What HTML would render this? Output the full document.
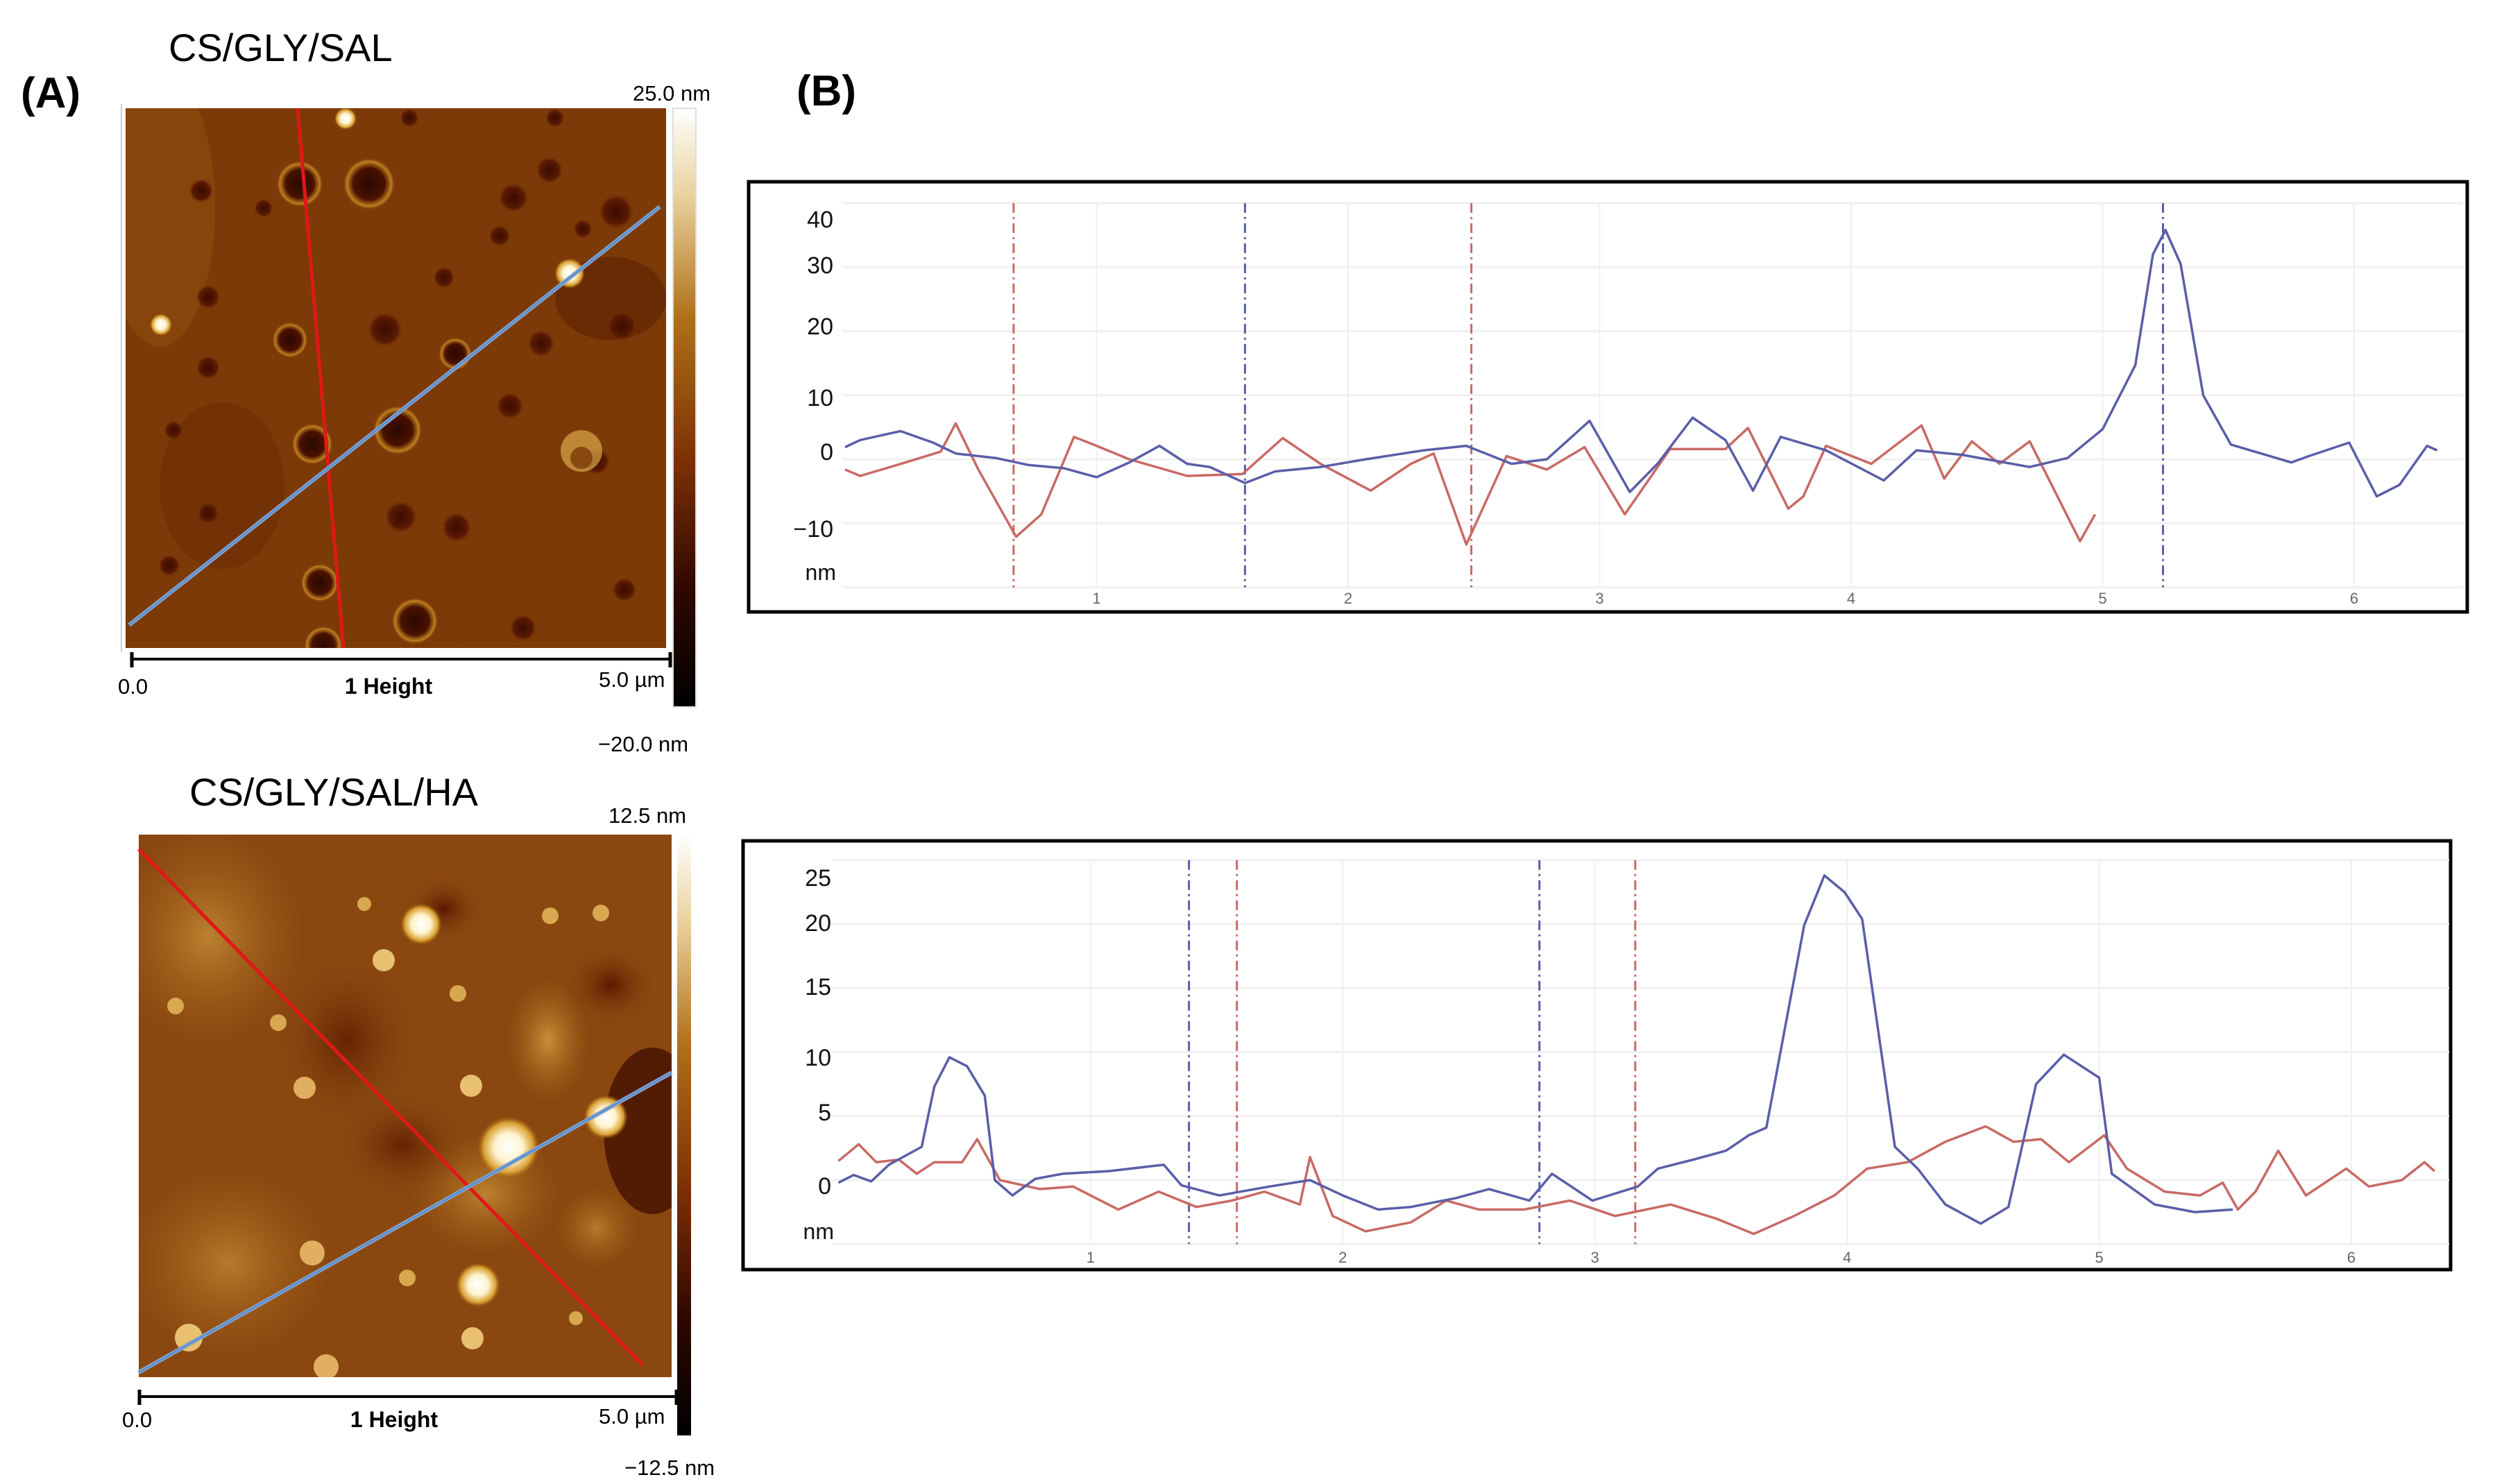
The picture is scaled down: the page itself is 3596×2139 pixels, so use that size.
<!DOCTYPE html>
<html><head><meta charset="utf-8"><style>
html,body{margin:0;padding:0;background:#fff;}
svg{display:block;font-family:"Liberation Sans",sans-serif;}
</style></head><body>
<svg id="fig" width="3596" height="2139" viewBox="0 0 3596 2139" xmlns="http://www.w3.org/2000/svg">
<defs>
<linearGradient id="cbar" x1="0" y1="0" x2="0" y2="1">
<stop offset="0" stop-color="#ffffff"/><stop offset="0.15" stop-color="#e9d09a"/><stop offset="0.35" stop-color="#b07018"/><stop offset="0.6" stop-color="#7a2e04"/><stop offset="0.8" stop-color="#300800"/><stop offset="1" stop-color="#000"/>
</linearGradient>
<radialGradient id="hole"><stop offset="0" stop-color="#2a0800"/><stop offset="0.6" stop-color="#4a1200"/><stop offset="0.85" stop-color="#c08020"/><stop offset="1" stop-color="#7a3408" stop-opacity="0"/></radialGradient>
<radialGradient id="hole2"><stop offset="0" stop-color="#3a0c00"/><stop offset="0.7" stop-color="#5a1a02"/><stop offset="1" stop-color="#7a3408" stop-opacity="0"/></radialGradient>
<radialGradient id="bright"><stop offset="0" stop-color="#ffffff"/><stop offset="0.45" stop-color="#fff4d0"/><stop offset="0.8" stop-color="#d8a030"/><stop offset="1" stop-color="#a06010" stop-opacity="0"/></radialGradient>
<radialGradient id="patch"><stop offset="0" stop-color="#c89038"/><stop offset="1" stop-color="#a86418" stop-opacity="0"/></radialGradient>
<radialGradient id="darkp"><stop offset="0" stop-color="#5a1800"/><stop offset="1" stop-color="#8a4a10" stop-opacity="0"/></radialGradient>
<clipPath id="clipA"><rect x="181" y="156" width="779" height="778"/></clipPath>
<clipPath id="clipB"><rect x="200" y="1203" width="768" height="782"/></clipPath>
</defs>

<!-- Panel labels -->
<text x="30" y="155" font-size="62" font-weight="bold">(A)</text>
<text x="1148" y="152" font-size="62" font-weight="bold">(B)</text>
<text x="243" y="88" font-size="56">CS/GLY/SAL</text>
<text x="273" y="1161" font-size="56">CS/GLY/SAL/HA</text>

<!-- Top AFM image -->
<g>
<rect x="181" y="156" width="779" height="778" fill="#7c3a08"/>
<g clip-path="url(#clipA)">
<ellipse cx="230" cy="300" rx="80" ry="200" fill="#94500e" opacity="0.5"/>
<ellipse cx="320" cy="700" rx="90" ry="120" fill="#6a2a04" opacity="0.5"/>
<ellipse cx="880" cy="430" rx="80" ry="60" fill="#5e2202" opacity="0.6"/>
<circle cx="432" cy="265" r="34" fill="url(#hole)"/>
<circle cx="532" cy="265" r="38" fill="url(#hole)"/>
<circle cx="573" cy="620" r="36" fill="url(#hole)"/>
<circle cx="598" cy="895" r="34" fill="url(#hole)"/>
<circle cx="450" cy="640" r="30" fill="url(#hole)"/>
<circle cx="418" cy="490" r="26" fill="url(#hole)"/>
<circle cx="461" cy="840" r="28" fill="url(#hole)"/>
<circle cx="466" cy="930" r="28" fill="url(#hole)"/>
<circle cx="555" cy="475" r="26" fill="url(#hole2)"/>
<circle cx="578" cy="745" r="24" fill="url(#hole2)"/>
<circle cx="656" cy="510" r="24" fill="url(#hole)"/>
<circle cx="658" cy="760" r="22" fill="url(#hole2)"/>
<circle cx="740" cy="285" r="22" fill="url(#hole2)"/>
<circle cx="792" cy="245" r="20" fill="url(#hole2)"/>
<circle cx="888" cy="305" r="26" fill="url(#hole2)"/>
<circle cx="896" cy="470" r="22" fill="url(#hole2)"/>
<circle cx="780" cy="495" r="20" fill="url(#hole2)"/>
<circle cx="735" cy="585" r="20" fill="url(#hole2)"/>
<circle cx="860" cy="665" r="20" fill="url(#hole2)"/>
<circle cx="754" cy="905" r="20" fill="url(#hole2)"/>
<circle cx="290" cy="275" r="18" fill="url(#hole2)"/>
<circle cx="300" cy="428" r="18" fill="url(#hole2)"/>
<circle cx="300" cy="530" r="18" fill="url(#hole2)"/>
<circle cx="300" cy="740" r="16" fill="url(#hole2)"/>
<circle cx="244" cy="815" r="16" fill="url(#hole2)"/>
<circle cx="660" cy="950" r="18" fill="url(#hole2)"/>
<circle cx="900" cy="850" r="18" fill="url(#hole2)"/>
<circle cx="720" cy="340" r="16" fill="url(#hole2)"/>
<circle cx="640" cy="400" r="16" fill="url(#hole2)"/>
<circle cx="840" cy="330" r="14" fill="url(#hole2)"/>
<circle cx="380" cy="300" r="14" fill="url(#hole2)"/>
<circle cx="250" cy="620" r="14" fill="url(#hole2)"/>
<circle cx="590" cy="170" r="14" fill="url(#hole2)"/>
<circle cx="800" cy="170" r="14" fill="url(#hole2)"/>
<circle cx="498" cy="171" r="16" fill="url(#bright)"/>
<circle cx="232" cy="468" r="16" fill="url(#bright)"/>
<circle cx="821" cy="394" r="22" fill="url(#bright)"/>
<circle cx="838" cy="650" r="30" fill="#d8a848" opacity="0.7"/>
<circle cx="838" cy="660" r="16" fill="#7c3a08" opacity="0.8"/>
</g>
<line x1="429" y1="156" x2="495" y2="934" stroke="#e01818" stroke-width="5"/>
<line x1="186" y1="901" x2="951" y2="298" stroke="#8aa0c8" stroke-width="6"/>
<line x1="186" y1="901" x2="951" y2="298" stroke="#4a90d8" stroke-width="2"/>
</g>
<line x1="175" y1="150" x2="175" y2="940" stroke="#ccc" stroke-width="2"/>
<rect x="970" y="156" width="33" height="863" fill="url(#cbar)"/>
<rect x="970" y="156" width="33" height="863" fill="none" stroke="#ddd" stroke-width="2"/>
<text x="912" y="145" font-size="31">25.0 nm</text>
<text x="862" y="1083" font-size="31">−20.0 nm</text>
<g>
<line x1="190" y1="950" x2="966" y2="950" stroke="#000" stroke-width="4"/>
<line x1="190" y1="940" x2="190" y2="962" stroke="#000" stroke-width="5"/>
<line x1="966" y1="940" x2="966" y2="962" stroke="#000" stroke-width="5"/>
</g>
<text x="170" y="1000" font-size="31">0.0</text>
<text x="560" y="1000" font-size="32" font-weight="bold" text-anchor="middle">1 Height</text>
<text x="863" y="990" font-size="31">5.0 µm</text>

<!-- Bottom AFM image -->
<g>
<rect x="200" y="1203" width="768" height="782" fill="#8a4810"/>
<g clip-path="url(#clipB)">
<ellipse cx="300" cy="1350" rx="140" ry="160" fill="url(#patch)" opacity="0.8"/>
<ellipse cx="330" cy="1820" rx="150" ry="140" fill="url(#patch)" opacity="0.7"/>
<ellipse cx="790" cy="1500" rx="60" ry="90" fill="url(#patch)"/>
<ellipse cx="700" cy="1720" rx="110" ry="90" fill="url(#patch)" opacity="0.8"/>
<ellipse cx="860" cy="1770" rx="60" ry="60" fill="url(#patch)" opacity="0.7"/>
<ellipse cx="500" cy="1500" rx="110" ry="130" fill="url(#darkp)" opacity="0.8"/>
<ellipse cx="580" cy="1650" rx="100" ry="80" fill="url(#darkp)" opacity="0.8"/>
<ellipse cx="940" cy="1630" rx="70" ry="120" fill="#3a0a00" opacity="0.7"/>
<ellipse cx="880" cy="1420" rx="70" ry="60" fill="url(#darkp)"/>
<ellipse cx="640" cy="1310" rx="60" ry="50" fill="url(#darkp)"/>
<circle cx="607" cy="1332" r="30" fill="url(#bright)"/>
<circle cx="733" cy="1654" r="45" fill="url(#bright)"/>
<circle cx="873" cy="1610" r="32" fill="url(#bright)"/>
<circle cx="689" cy="1852" r="32" fill="url(#bright)"/>
<circle cx="553" cy="1384" r="16" fill="#e8c070"/>
<circle cx="439" cy="1568" r="16" fill="#e0b060"/>
<circle cx="450" cy="1806" r="18" fill="#e0b060"/>
<circle cx="679" cy="1565" r="16" fill="#e8c070"/>
<circle cx="681" cy="1929" r="16" fill="#e8c070"/>
<circle cx="470" cy="1970" r="18" fill="#e0b060"/>
<circle cx="272" cy="1928" r="20" fill="#e8c070"/>
<circle cx="253" cy="1450" r="12" fill="#d8a850"/>
<circle cx="401" cy="1474" r="12" fill="#d8a850"/>
<circle cx="660" cy="1432" r="12" fill="#d8a850"/>
<circle cx="793" cy="1320" r="12" fill="#d8a850"/>
<circle cx="866" cy="1316" r="12" fill="#d8a850"/>
<circle cx="525" cy="1303" r="10" fill="#d8a850"/>
<circle cx="587" cy="1842" r="12" fill="#d8a850"/>
<circle cx="830" cy="1900" r="10" fill="#d8a850"/>
</g>
<line x1="200" y1="1224" x2="926" y2="1967" stroke="#e01818" stroke-width="5"/>
<line x1="200" y1="1978" x2="968" y2="1546" stroke="#8aa0c8" stroke-width="6"/>
<line x1="200" y1="1978" x2="968" y2="1546" stroke="#4a90d8" stroke-width="2"/>
</g>
<rect x="976" y="1203" width="20" height="866" fill="url(#cbar)"/>
<text x="877" y="1186" font-size="31">12.5 nm</text>
<text x="900" y="2126" font-size="31">−12.5 nm</text>
<g>
<line x1="201" y1="2013" x2="975" y2="2013" stroke="#000" stroke-width="4"/>
<line x1="201" y1="2003" x2="201" y2="2025" stroke="#000" stroke-width="5"/>
<line x1="975" y1="2003" x2="975" y2="2025" stroke="#000" stroke-width="5"/>
</g>
<text x="176" y="2057" font-size="31">0.0</text>
<text x="568" y="2057" font-size="32" font-weight="bold" text-anchor="middle">1 Height</text>
<text x="863" y="2052" font-size="31">5.0 µm</text>

<g id="chartTop"></g>
<g id="chartBot"></g>
</svg>
<script>
// ---- Top profile data ----
const topBlueX = [0,0.06,0.22,0.35,0.44,0.6,0.73,0.87,1.0,1.13,1.25,1.36,1.45,1.59,1.71,1.89,2.07,2.3,2.47,2.65,2.79,2.96,3.12,3.23,3.37,3.5,3.61,3.72,3.9,4.13,4.26,4.44,4.71,4.86,5.0,5.13,5.2,5.25,5.31,5.4,5.51,5.75,5.82,5.98,6.09,6.18,6.29,6.33];
const topBlueY = [1.9,3,4.4,2.6,0.9,0.2,-0.9,-1.4,-2.8,-0.5,2.1,-0.7,-1.2,-3.7,-1.9,-1.2,0,1.4,2.1,-0.7,0,6,-5.1,-0.7,6.5,3,-4.9,3.5,1.4,-3.3,1.4,0.7,-1.2,0.2,4.7,14.7,32,35.8,30.5,10,2.3,-0.5,0.5,2.6,-5.8,-4,2.1,1.4];
const topRedX = [0,0.06,0.24,0.38,0.44,0.53,0.68,0.78,0.91,1.0,1.13,1.36,1.58,1.74,1.89,2.09,2.25,2.34,2.47,2.63,2.79,2.94,3.1,3.28,3.5,3.59,3.75,3.81,3.9,4.08,4.28,4.37,4.48,4.59,4.71,4.91,4.97];
const topRedY = [-1.6,-2.6,-0.5,1.2,5.6,-1.6,-12.1,-8.6,3.5,2.1,0,-2.6,-2.3,3.3,-0.7,-4.9,-0.7,0.9,-13.3,0.5,-1.6,1.9,-8.6,1.6,1.6,4.9,-7.7,-5.8,2.1,-0.7,5.3,-3,2.8,-0.7,2.8,-12.8,-8.6];
const topYTicks = [40,30,20,10,0,-10];
const topYTickPos = [316,382,470,573,651,762]; // label baselines as printed (not evenly spaced)
const topXTicks = [1,2,3,4,5,6];
const topMarkers = [0.67,1.59,2.49,5.24];
const topMarkerColors = ['red','blue','red','blue'];

// ---- Bottom profile data ----
const botBlueX = [0,0.06,0.13,0.2,0.33,0.38,0.44,0.51,0.58,0.62,0.69,0.78,0.89,1.07,1.29,1.36,1.51,1.71,1.87,2.0,2.14,2.27,2.45,2.58,2.74,2.83,2.99,3.17,3.25,3.39,3.52,3.61,3.68,3.83,3.91,3.99,4.06,4.19,4.28,4.39,4.53,4.64,4.75,4.86,5.0,5.05,5.22,5.38,5.53];
const botBlueY = [-0.2,0.4,-0.1,1.2,2.6,7.3,9.6,8.9,6.6,0,-1.2,0.1,0.5,0.7,1.2,-0.4,-1.2,-0.5,0,-1.2,-2.3,-2.1,-1.4,-0.7,-1.6,0.5,-1.6,-0.5,0.9,1.6,2.3,3.5,4.1,19.9,23.8,22.5,20.4,2.6,0.9,-1.9,-3.4,-2.1,7.5,9.8,8,0.5,-1.9,-2.5,-2.3];
const botRedX = [0,0.08,0.15,0.24,0.31,0.38,0.49,0.55,0.64,0.8,0.93,1.11,1.27,1.42,1.56,1.69,1.83,1.87,1.96,2.09,2.27,2.41,2.54,2.72,2.9,3.08,3.3,3.48,3.63,3.79,3.95,4.08,4.24,4.39,4.55,4.66,4.77,4.88,5.02,5.11,5.26,5.4,5.49,5.55,5.62,5.71,5.82,5.98,6.07,6.2,6.29,6.33];
const botRedY = [1.5,2.8,1.4,1.6,0.5,1.4,1.4,3.2,0,-0.7,-0.5,-2.3,-0.9,-2.1,-1.6,-0.9,-1.9,1.8,-2.8,-4,-3.3,-1.6,-2.3,-2.3,-1.6,-2.8,-1.9,-3,-4.2,-2.8,-1.2,0.9,1.4,3,4.2,3,3.2,1.4,3.5,0.9,-0.9,-1.2,-0.2,-2.3,-0.9,2.3,-1.2,0.9,-0.5,0,1.4,0.7];
const botYTicks = [25,20,15,10,5,0];
const botYTickPos = [1265,1330,1422,1524,1603,1709];
const botXTicks = [1,2,3,4,5,6];
const botMarkers = [1.39,1.58,2.78,3.16];
const botMarkerColors = ['blue','red','blue','red'];

const NS = 'http://www.w3.org/2000/svg';
function mk(tag, attrs, parent){const e=document.createElementNS(NS,tag);for(const k in attrs)e.setAttribute(k,attrs[k]);parent.appendChild(e);return e;}
const COL={blue:'#5a5ea8',red:'#c86a64'};

function drawChart(g, cfg){
  const box = mk('rect',{x:cfg.box[0],y:cfg.box[1],width:cfg.box[2],height:cfg.box[3],fill:'#fff',stroke:'#000','stroke-width':5},g);
  
  
  const xs = v => cfg.x0 + v*cfg.xu;
  const ys = v => cfg.y0 - v*cfg.yu;
  // horizontal gridlines
  for(let v=cfg.ymin; v<=cfg.ymax; v+=cfg.ystep){
    const l = mk('line',{x1:cfg.plotL,x2:cfg.plotR,y1:ys(v),y2:ys(v),stroke:'#f0f0f0','stroke-width':3},g);
    
    
  }
  cfg.xt.forEach(t=>{
    const l = mk('line',{x1:xs(t),x2:xs(t),y1:ys(cfg.ymax),y2:ys(cfg.ymin),stroke:'#f0f0f0','stroke-width':2},g);
    
    
    const tx = mk('text',{x:xs(t),y:cfg.xlabY,'font-size':22,fill:'#666','text-anchor':'middle'},g);
    tx.textContent=t;
    
    
  });
  cfg.yt.forEach((t,i)=>{
    const tx = mk('text',{x:cfg.ylabX,y:cfg.ytp[i]+12,'font-size':34,fill:'#111','text-anchor':'end'},g);
    tx.textContent = t<0 ? '−'+(-t) : t;
    
    
  });
  const nm = mk('text',{x:cfg.ylabX+4,y:cfg.nmY,'font-size':32,fill:'#111','text-anchor':'end'},g);
  nm.textContent='nm';
  
  
  cfg.markers.forEach((m,i)=>{
    const l = mk('line',{x1:xs(m),x2:xs(m),y1:ys(cfg.ymax),y2:ys(cfg.ymin),stroke:COL[cfg.mcol[i]],'stroke-width':3,'stroke-dasharray':'14 6 3 6'},g);
    
    
  });
  cfg.series.forEach(s=>{
    const d = s.x.map((v,i)=>(i?'L':'M')+xs(v).toFixed(1)+','+ys(s.y[i]).toFixed(1)).join(' ');
    const p = mk('path',{d:d,fill:'none',stroke:COL[s.c],'stroke-width':3.5,'stroke-linejoin':'round'},g);
    
    
  });
}

drawChart(document.getElementById('chartTop'),{
  box:[1079,262,2477,620], x0:1218, xu:362.5, y0:662, yu:9.23,
  ymin:-20, ymax:40, ystep:10, plotL:1214, plotR:3550,
  xt:topXTicks, xlabY:870, yt:topYTicks, ytp:topYTickPos, ylabX:1201, nmY:836,
  markers:topMarkers, mcol:topMarkerColors,
  series:[{x:topRedX,y:topRedY,c:'red'},{x:topBlueX,y:topBlueY,c:'blue'}]
});
drawChart(document.getElementById('chartBot'),{
  box:[1071,1212,2461,618], x0:1208.5, xu:363.4, y0:1701, yu:18.45,
  ymin:-5, ymax:25, ystep:5, plotL:1200, plotR:3530,
  xt:botXTicks, xlabY:1820, yt:botYTicks, ytp:botYTickPos, ylabX:1198, nmY:1786,
  markers:botMarkers, mcol:botMarkerColors,
  series:[{x:botRedX,y:botRedY,c:'red'},{x:botBlueX,y:botBlueY,c:'blue'}]
});
</script>
</body></html>
